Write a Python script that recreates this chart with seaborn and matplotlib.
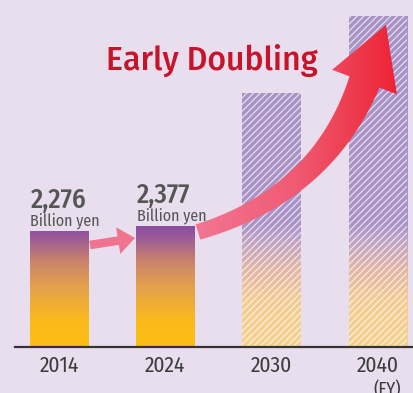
import numpy as np
import matplotlib
matplotlib.use("Agg")
import matplotlib.pyplot as plt
import seaborn as sns
import pandas as pd
from matplotlib import font_manager as fm
from matplotlib.colors import LinearSegmentedColormap
from matplotlib.patches import Polygon

# ---------------- data ----------------
years = ["2014", "2024", "2030", "2040"]
values = [2276, 2377, 4970, 6490]
value_labels = ["2,276", "2,377", "", ""]
unit_label = "Billion yen"
projected = [False, False, True, True]
title_text = "Early Doubling"
fy_text = "(FY)"

W, H = 414, 393
BG = "#E9DEEE"
YMAX = 6800

sns.set_theme(style="white")
available = {f.name for f in fm.fontManager.ttflist}
cands = ["Fira Sans Condensed", "Roboto Condensed", "Barlow Semi Condensed",
         "PT Sans Narrow", "Archivo Narrow", "Liberation Sans Narrow",
         "Encode Sans Semi Condensed", "Roboto"]
COND = next((c for c in cands if c in available), "DejaVu Sans")
tcands = ["Fira Sans", "Lato", "Roboto"]
TFONT = next((c for c in tcands if c in available), "DejaVu Sans")
plt.rcParams["font.family"] = [COND, "DejaVu Sans"]
plt.rcParams["hatch.linewidth"] = 0.9

fig = plt.figure(figsize=(W / 100, H / 100), dpi=100, facecolor=BG)
ax = fig.add_axes([15 / W, 46 / H, (W - 15) / W, 347 / H])
ax.set_facecolor(BG)

df = pd.DataFrame({"year": years, "value": values})
sns.barplot(data=df, x="year", y="value", ax=ax, width=0.55, color="white",
            linewidth=0, zorder=2)

solid_stops = [(0, "#FDBE14"), (500, "#FBBA1C"), (1180, "#E3A04E"),
               (1650, "#CB846A"), (2160, "#98589A"), (2330, "#8C4FA0"),
               (YMAX, "#8C4FA0")]
proj_stops = [(0, "#F6D18C"), (900, "#F3CB92"), (1500, "#E3B6A6"),
              (2100, "#BDA2C6"), (2400, "#AA93C6"), (YMAX, "#A892C6")]


def make_cmap(stops, name):
    return LinearSegmentedColormap.from_list(name, [(v / YMAX, c) for v, c in stops])


cm_solid = make_cmap(solid_stops, "solid")
cm_proj = make_cmap(proj_stops, "proj")
grad = np.linspace(0, 1, 512).reshape(-1, 1)

bars = list(ax.patches)[:len(years)]
for bar, proj in zip(bars, projected):
    bar.set_facecolor("none")
    x0 = bar.get_x()
    x1 = x0 + bar.get_width()
    im = ax.imshow(grad, extent=[x0, x1, 0, YMAX], origin="lower", aspect="auto",
                   cmap=cm_proj if proj else cm_solid, zorder=1, interpolation="bilinear")
    im.set_clip_path(bar)
    if proj:
        bar.set_hatch("/////")
        bar.set_edgecolor((1, 1, 1, 0.7))
        bar.set_linewidth(0)

# value labels
for bar, lab in zip(bars, value_labels):
    if not lab:
        continue
    x0 = bar.get_x()
    top = bar.get_height()
    ax.annotate(unit_label, xy=(x0, top), xytext=(0.5, 4.0), textcoords="offset points",
                ha="left", va="baseline", fontsize=11.5, color="#555555")
    ax.annotate(lab, xy=(x0, top), xytext=(0.5, 16.5), textcoords="offset points",
                ha="left", va="baseline", fontsize=19.5, color="#555555", fontweight="medium")

ax.set_xlim(-0.414, 3.339)
ax.set_ylim(0, YMAX)
ax.set_yticks([])
ax.set_xlabel("")
ax.set_ylabel("")
for s in ["top", "right", "left"]:
    ax.spines[s].set_visible(False)
ax.spines["bottom"].set_color("#333333")
ax.spines["bottom"].set_linewidth(1.6)
ax.tick_params(axis="x", length=0, pad=6, labelsize=15.5, labelcolor="#3C3C3C")

# overlay axes in pixel coordinates for arrows / title
ov = fig.add_axes([0, 0, 1, 1])
ov.set_xlim(0, W)
ov.set_ylim(H, 0)
ov.axis("off")
ov.patch.set_alpha(0)

# small arrow 2014 -> 2024
S = np.array([90.0, 245.0])
T = np.array([135.0, 238.0])
d = (T - S) / np.linalg.norm(T - S)
n = np.array([-d[1], d[0]])
hl, hw, sw = 17.0, 13.5, 4.3
B = T - d * hl
small = Polygon([S + n * sw, B + n * sw, B + n * hw, T, B - n * hw, B - n * sw, S - n * sw],
                closed=True, facecolor="#F07490", edgecolor="none", zorder=3)
ov.add_patch(small)

# big curved arrow
P0 = np.array([198.0, 232.0])
P1 = np.array([322.0, 195.0])
P2 = np.array([364.5, 82.0])
ts = np.linspace(0, 1, 80)
pts = ((1 - ts) ** 2)[:, None] * P0 + (2 * ts * (1 - ts))[:, None] * P1 + (ts ** 2)[:, None] * P2
tan = (2 * (1 - ts))[:, None] * (P1 - P0) + (2 * ts)[:, None] * (P2 - P1)
tan /= np.linalg.norm(tan, axis=1)[:, None]
nrm = np.stack([-tan[:, 1], tan[:, 0]], axis=1)
half = (16 + 16 * ts ** 1.4) / 2
side_a = pts + nrm * half[:, None]
side_b = pts - nrm * half[:, None]
dirE = tan[-1]
nE = nrm[-1]
tip = P2 + dirE * 61
poly = np.vstack([side_a, [P2 + nE * 34.6], [tip], [P2 - nE * 34.6], side_b[::-1]])
big = Polygon(poly, closed=True, facecolor="none", edgecolor="none", zorder=3)
ov.add_patch(big)
cm_arrow = LinearSegmentedColormap.from_list("arr", ["#F27694", "#F05A72", "#EC2232"])
hgrad = np.linspace(0, 1, 256).reshape(1, -1)
aim = ov.imshow(hgrad, extent=[195, 400, 250, 15], cmap=cm_arrow, aspect="auto",
                zorder=3, interpolation="bilinear")
aim.set_clip_path(big)
ov.set_xlim(0, W)
ov.set_ylim(H, 0)

# title
ov.text(211.5, 60, title_text, ha="center", va="center", fontsize=23,
        color="#C8142A", family=[TFONT, "DejaVu Sans"], fontweight="medium")

# (FY)
ov.text(387.5, 381, fy_text, ha="center", va="top", fontsize=13, color="#3C3C3C")

fig.savefig("out.png", dpi=100, facecolor=BG)
